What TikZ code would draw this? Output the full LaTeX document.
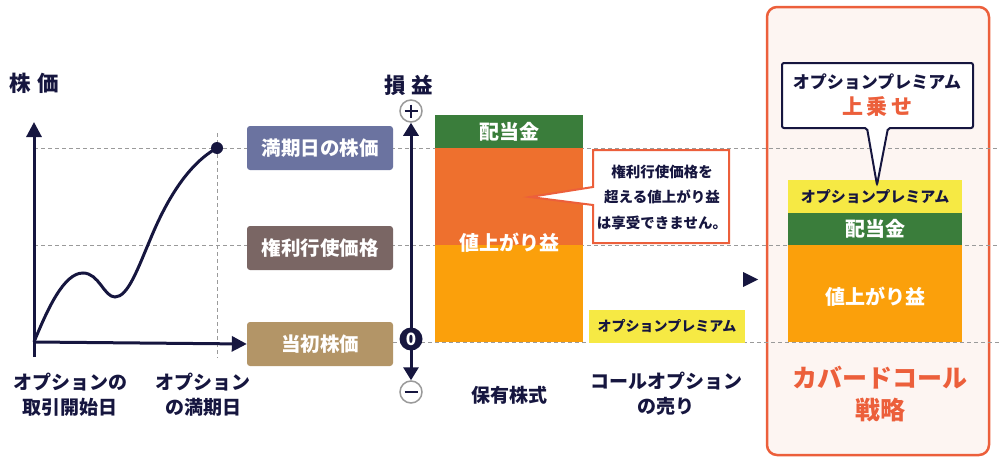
\documentclass[tikz,border=0pt]{standalone}
\usepackage{fontspec}
\setmainfont{Noto Sans CJK JP}
\usepackage{xcolor}
\usepackage{tikz}
\usetikzlibrary{arrows.meta}

\definecolor{navy}{HTML}{16163F}
\definecolor{guidegray}{HTML}{9A9A9A}
\definecolor{slate}{HTML}{6B73A0}
\definecolor{mauve}{HTML}{7A6664}
\definecolor{tan}{HTML}{B39567}
\definecolor{divgreen}{HTML}{3A7D3B}
\definecolor{gainred}{HTML}{EE702E}
\definecolor{gainorange}{HTML}{FBA00B}
\definecolor{premyellow}{HTML}{F6E944}
\definecolor{accent}{HTML}{EC5F3B}
\definecolor{panelpink}{HTML}{FDF5F2}

\tikzset{
  guide/.style={guidegray, line width=1pt, dash pattern=on 4pt off 3pt},
  axis/.style={navy, line width=3pt, -{Triangle[length=15pt,width=15pt]}},
  pricebox/.style={rounded corners=3pt, inner sep=0pt, minimum width=146pt,
    minimum height=44pt, text=white, font=\fontsize{19.5}{21}\selectfont\bfseries},
  barpart/.style={inner sep=0pt, minimum width=#1},
  bartext/.style={text=white, font=\fontsize{20}{22}\selectfont\bfseries},
  premtext/.style={text=navy, font=\fontsize{14}{16}\selectfont\bfseries},
  caption/.style={text=navy, align=center, font=\fontsize{19}{25}\selectfont\bfseries},
  title/.style={text=navy, font=\fontsize{21.5}{23}\selectfont\bfseries},
  signcircle/.style={circle, draw=guidegray, line width=1.5pt, fill=white,
    minimum size=22pt, inner sep=0pt}
}

\begin{document}
\begin{tikzpicture}[x=1pt,y=-1pt]
  \useasboundingbox (0,0) rectangle (1000,463);

  % strategy panel on the right
  \draw[accent, line width=2.5pt, fill=panelpink, rounded corners=10pt]
    (767,7) rectangle (989,455);

  % price level guides
  \draw[guide] (34,148) -- (1000,148);
  \draw[guide] (34,245) -- (1000,245);
  \draw[guide] (393,342) -- (1000,342);
  \draw[guide] (217,133) -- (217,358);

  % price boxes
  \node[pricebox, fill=slate] (expiry) at (320,148) {満期日の株価};
  \node[pricebox, fill=mauve] (strike) at (320,248) {権利行使価格};
  \node[pricebox, fill=tan] (initial) at (320,344) {当初株価};

  % stock price chart
  \node[title] (ptitle) at (34,83) {株\hspace{0.3em}価};
  \coordinate (o) at (34,342);
  \coordinate (ybot) at (34,357);
  \coordinate (ytop) at (34,122);
  \draw[axis] (ybot) -- (ytop);
  \draw[axis] (o) -- (initial.west);
  \draw[navy, line width=3pt] (o)
    .. controls (48,308) and (64,273) .. (83,273)
    .. controls (99,273) and (104,297) .. (115,297)
    .. controls (128,297) and (138,268) .. (150,240)
    .. controls (168,196) and (190,163) .. (217,148);
  \node[circle, fill=navy, minimum size=12pt, inner sep=0pt] (spot) at (217,148) {};
  \node[caption] (startlbl) at (70,395) {オプションの\\取引開始日};
  \node[caption] (endlbl) at (203,395) {オプション\\の満期日};

  % profit and loss axis
  \node[title] (pltitle) at (409,85) {損\hspace{0.25em}益};
  \node[signcircle] (plus) at (411,111) {};
  \node[signcircle] (minus) at (411,392) {};
  \draw[navy, line width=1.3pt] (plus.center) +(-6.5,0) -- +(6.5,0);
  \draw[navy, line width=1.3pt] (plus.center) +(0,-6.5) -- +(0,6.5);
  \draw[navy, line width=1.3pt] (minus.center) +(-6.5,0) -- +(6.5,0);
  \draw[navy, line width=3pt, {Triangle[length=13pt,width=15pt]}-{Triangle[length=13pt,width=15pt]}]
    (minus) -- (plus);
  \node[circle, fill=navy, minimum size=23pt, inner sep=0pt, text=white,
    font=\fontsize{17}{17}\selectfont\bfseries] (zero) at (411,339) {0};

  % stock holding bar
  \node[barpart=148pt, fill=divgreen, minimum height=33pt, bartext] (div1) at (509,131.5) {配当金};
  \node[barpart=148pt, fill=gainred, minimum height=97pt] (capped) at (509,196.5) {};
  \node[barpart=148pt, fill=gainorange, minimum height=97pt] (gain1) at (509,293.5) {};
  \node[bartext] (gain1lbl) at (509,243) {値上がり益};
  \node[caption] (holdlbl) at (509,395) {保有株式};

  % note on the capped gain
  \draw[accent, line width=2pt, fill=white]
    (593,150) -- (729,150) -- (729,243) -- (593,243) -- (593,205)
    -- (530,197) -- (593,187) -- cycle;
  \node[text=navy, align=center, font=\fontsize{14.5}{25.5}\selectfont\bfseries]
    (capnote) at (662,197) {権利行使価格を\\超える値上がり益\\は享受できません。};

  % call option sale bar
  \node[barpart=156pt, fill=premyellow, minimum height=33pt, premtext] (prem1) at (667,326.5) {オプションプレミアム};
  \node[caption] (calllbl) at (666,394) {コールオプション\\の売り};

  % arrow into the strategy
  \fill[navy] (743,272) -- (758,279.5) -- (743,287) -- cycle;

  % covered call bar
  \node[barpart=174pt, fill=premyellow, minimum height=33pt, premtext,
    font=\fontsize{15}{16}\selectfont\bfseries] (prem2) at (875,196.5) {オプションプレミアム};
  \node[barpart=174pt, fill=divgreen, minimum height=32pt, bartext] (div2) at (875,229) {配当金};
  \node[barpart=174pt, fill=gainorange, minimum height=97pt] (gain2) at (875,293.5) {};
  \node[bartext] (gain2lbl) at (875,297) {値上がり益};

  % premium callout
  \draw[navy, line width=2pt, fill=white, rounded corners=2pt]
    (782,63) -- (973,63) -- (973,128) -- (888,128) -- (877,185)
    -- (867,128) -- (782,128) -- cycle;
  \node[text=navy, font=\fontsize{17}{18}\selectfont\bfseries] (calloutA) at (877,82) {オプションプレミアム};
  \node[text=accent, font=\fontsize{21}{23}\selectfont\bfseries] (calloutB) at (877,107) {上\,乗\,せ};

  % strategy name
  \node[text=accent, align=center, font=\fontsize{25}{32}\selectfont\bfseries]
    (stratlbl) at (880,394) {カバードコール\\戦略};
\end{tikzpicture}
\end{document}
